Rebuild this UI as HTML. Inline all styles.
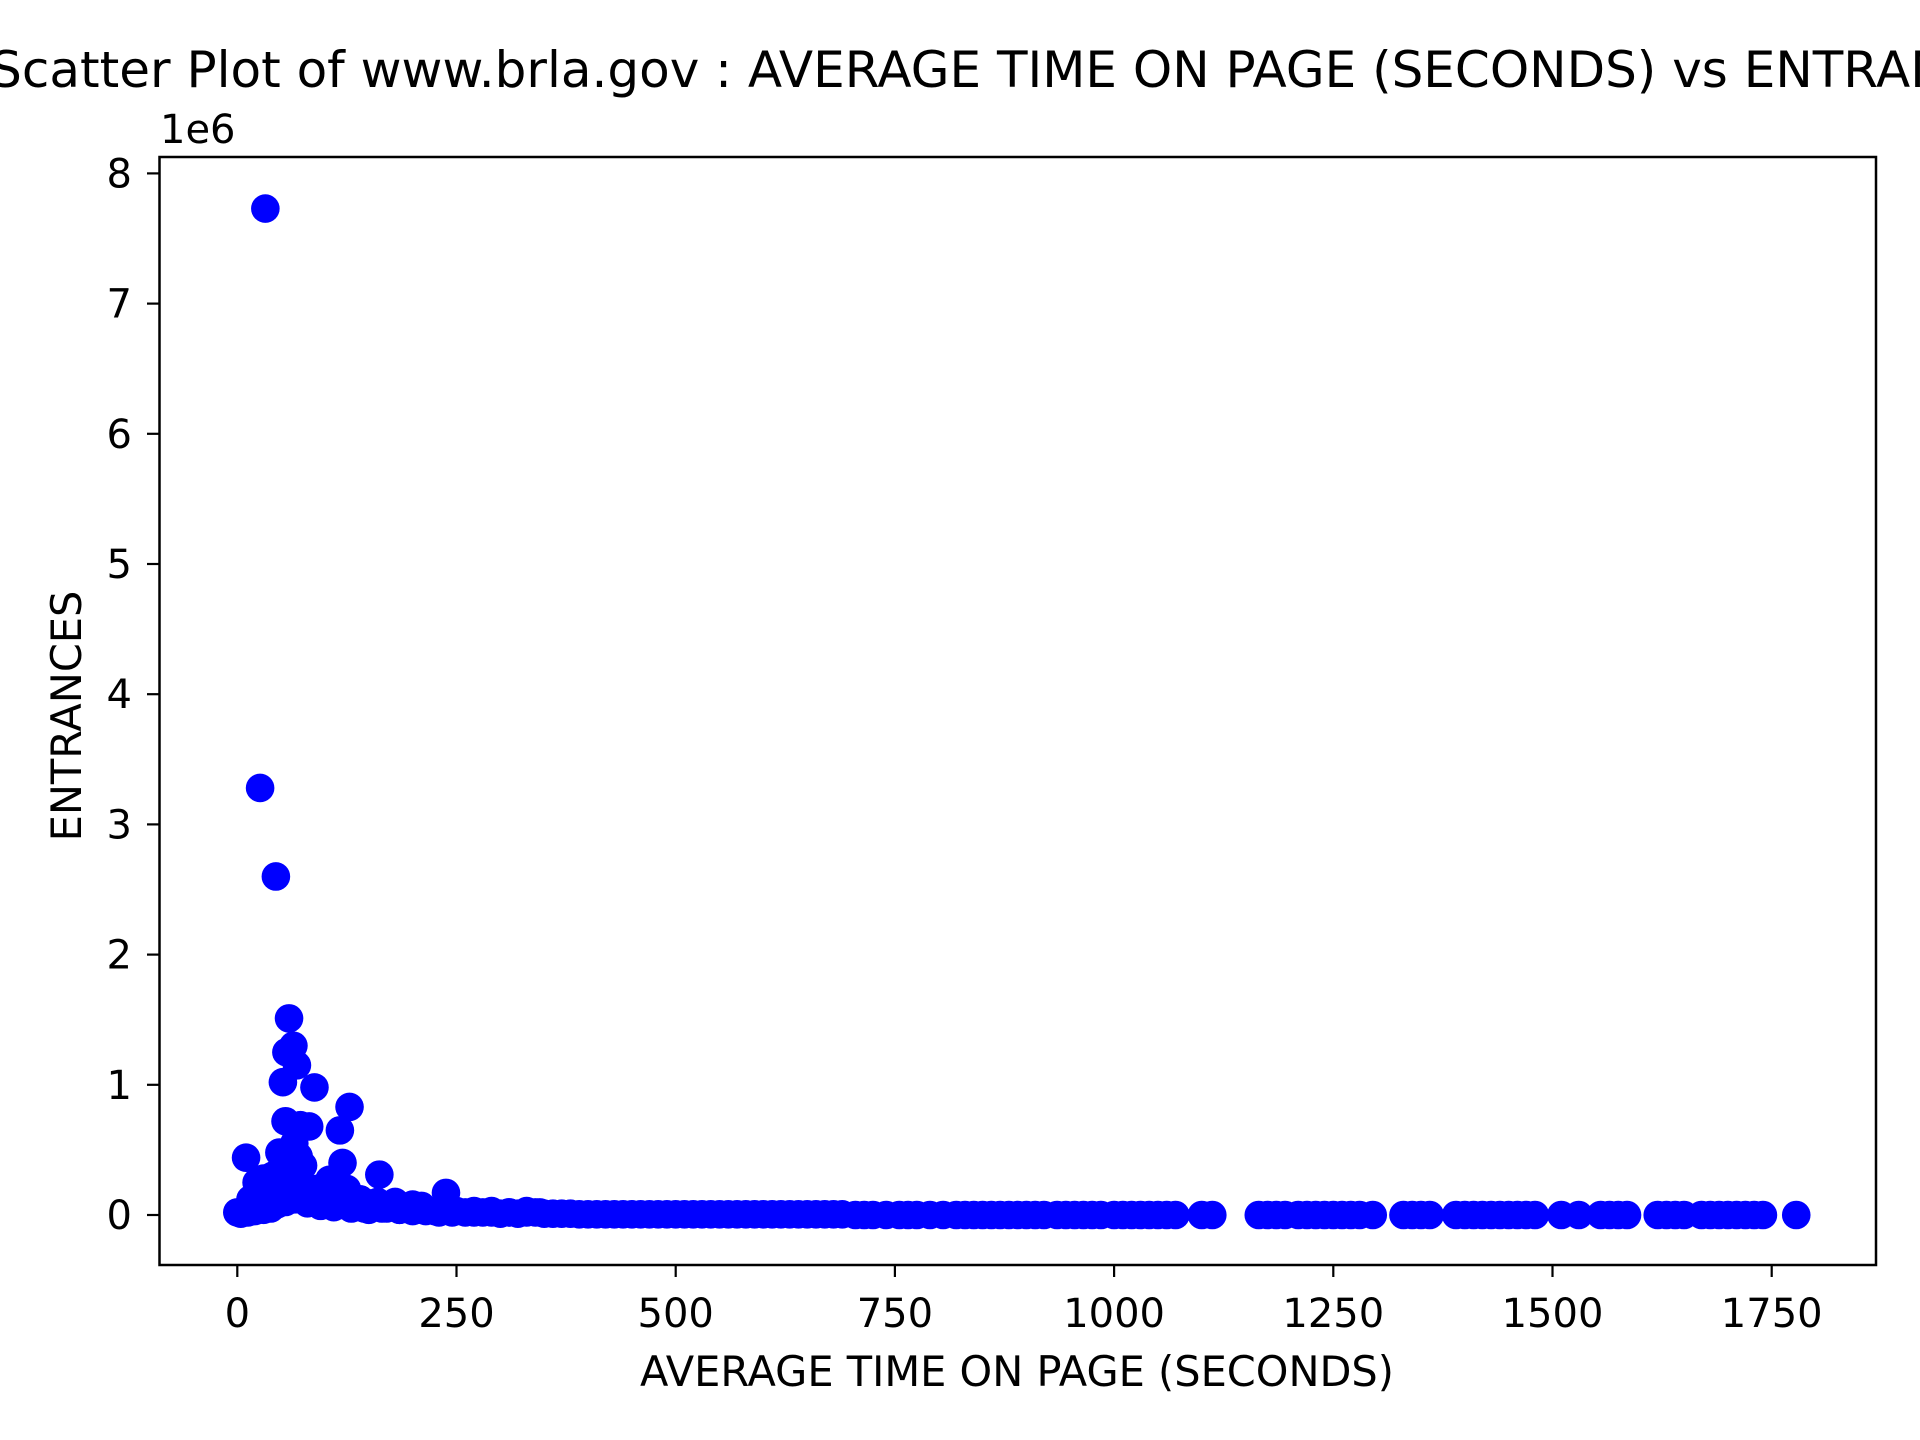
<!DOCTYPE html>
<html><head><meta charset="utf-8"><style>
html,body{margin:0;padding:0;background:#fff;}
svg{display:block;font-family:"DejaVu Sans","Liberation Sans",sans-serif;}
</style></head><body>
<svg id="chart" width="1920" height="1440" viewBox="0 0 1920 1440" xmlns="http://www.w3.org/2000/svg">
<rect x="0" y="0" width="1920" height="1440" fill="#fff"/>
<text x="1018" y="87" font-size="50" text-anchor="middle" fill="#000">Scatter Plot of www.brla.gov : AVERAGE TIME ON PAGE (SECONDS) vs ENTRANCES</text>
<g id="points"></g>
<rect x="159.5" y="157" width="1716.5" height="1108" fill="none" stroke="#000" stroke-width="2.5"/>
<g id="xticks"></g>
<g id="yticks"></g>
<text x="160" y="143" font-size="40" fill="#000">1e6</text>
<text x="1017" y="1386" font-size="41.5" text-anchor="middle" fill="#000">AVERAGE TIME ON PAGE (SECONDS)</text>
<text x="0" y="0" font-size="41.5" text-anchor="middle" fill="#000" transform="translate(81,716) rotate(-90)">ENTRANCES</text>
</svg>
<script>
const xTicks = [0, 250, 500, 750, 1000, 1250, 1500, 1750];
const yTicks = [0, 1, 2, 3, 4, 5, 6, 7, 8];
const peakX = [32, 26, 44, 59, 64, 56, 68, 52, 88, 128, 55, 72, 82, 117, 10, 120, 162, 238, 65, 70, 60, 75, 50, 48, 105, 125, 140, 180, 200, 36, 22, 40, 95, 110, 150, 190, 210, 15, 30, 58];
const peakY = [7.73e6, 3.28e6, 2.6e6, 1.51e6, 1.3e6, 1.25e6, 1.15e6, 1.02e6, 0.98e6, 0.83e6, 0.72e6, 0.69e6, 0.68e6, 0.65e6, 0.44e6, 0.4e6, 0.31e6, 0.17e6, 0.55e6, 0.45e6, 0.42e6, 0.38e6, 0.35e6, 0.48e6, 0.27e6, 0.2e6, 0.12e6, 0.1e6, 0.08e6, 0.22e6, 0.25e6, 0.3e6, 0.15e6, 0.18e6, 0.09e6, 0.06e6, 0.07e6, 0.12e6, 0.28e6, 0.33e6];
const clusterX = [20, 25, 30, 35, 40, 45, 50, 55, 60, 65, 70, 75, 80, 85, 90, 95, 100, 105, 110, 115, 120, 130, 140, 150, 160, 170, 180, 190, 200, 215, 35, 45, 55, 65, 75, 85, 95, 105, 115, 125, 135, 145, 165, 185, 205, 225, 250, 270, 290, 310, 330, 345];
const clusterY = [0.15e6, 0.2e6, 0.25e6, 0.28e6, 0.3e6, 0.32e6, 0.35e6, 0.3e6, 0.28e6, 0.3e6, 0.25e6, 0.22e6, 0.2e6, 0.18e6, 0.2e6, 0.15e6, 0.18e6, 0.2e6, 0.15e6, 0.12e6, 0.18e6, 0.1e6, 0.12e6, 0.08e6, 0.1e6, 0.06e6, 0.07e6, 0.05e6, 0.06e6, 0.04e6, 0.12e6, 0.15e6, 0.18e6, 0.15e6, 0.12e6, 0.1e6, 0.09e6, 0.1e6, 0.08e6, 0.07e6, 0.06e6, 0.05e6, 0.05e6, 0.04e6, 0.04e6, 0.03e6, 0.03e6, 0.03e6, 0.03e6, 0.02e6, 0.03e6, 0.02e6];
const flatX = [0, 4, 8, 12, 16, 20, 25, 30, 38, 45, 55, 65, 80, 95, 110, 130, 150, 170, 185, 200, 215, 230, 245, 260, 270, 280, 290, 300, 310, 320, 330, 340, 350, 360, 370, 380, 390, 400, 410, 420, 430, 440, 450, 460, 470, 480, 490, 500, 510, 520, 530, 540, 550, 560, 570, 580, 590, 600, 610, 620, 630, 640, 650, 660, 670, 680, 690, 705, 715, 725, 740, 755, 765, 775, 790, 805, 820, 830, 840, 850, 860, 870, 880, 890, 900, 910, 920, 935, 945, 955, 965, 975, 985, 1000, 1010, 1020, 1030, 1040, 1050, 1060, 1070, 1100, 1112, 1165, 1175, 1185, 1195, 1210, 1220, 1230, 1240, 1250, 1260, 1270, 1280, 1295, 1330, 1340, 1350, 1360, 1390, 1400, 1410, 1420, 1430, 1440, 1450, 1460, 1470, 1480, 1510, 1530, 1555, 1565, 1575, 1585, 1620, 1630, 1640, 1650, 1670, 1680, 1690, 1700, 1710, 1720, 1730, 1740, 1778];
const flatY = [0.02e6, 0.01e6, 0.03e6, 0.02e6, 0.05e6, 0.03e6, 0.06e6, 0.04e6, 0.05e6, 0.08e6, 0.1e6, 0.12e6, 0.09e6, 0.07e6, 0.06e6, 0.05e6, 0.04e6, 0.05e6, 0.04e6, 0.03e6, 0.03e6, 0.02e6, 0.02e6, 0.02e6, 0.02e6, 0.02e6, 0.02e6, 0.01e6, 0.02e6, 0.01e6, 0.02e6, 0.02e6, 0.01e6, 0.01e6, 0.01e6, 0.01e6, 0.005e6, 0.005e6, 0.005e6, 0.005e6, 0.005e6, 0.005e6, 0.005e6, 0.005e6, 0.005e6, 0.005e6, 0.005e6, 0.005e6, 0.005e6, 0.005e6, 0.005e6, 0.005e6, 0.005e6, 0.005e6, 0.005e6, 0.005e6, 0.005e6, 0.005e6, 0.005e6, 0.005e6, 0.005e6, 0.005e6, 0.005e6, 0.005e6, 0.005e6, 0.005e6, 0.005e6, 0, 0, 0, 0, 0, 0, 0, 0, 0, 0, 0, 0, 0, 0, 0, 0, 0, 0, 0, 0, 0, 0, 0, 0, 0, 0, 0, 0, 0, 0, 0, 0, 0, 0, 0, 0, 0, 0, 0, 0, 0, 0, 0, 0, 0, 0, 0, 0, 0, 0, 0, 0, 0, 0, 0, 0, 0, 0, 0, 0, 0, 0, 0, 0, 0, 0, 0, 0, 0, 0, 0, 0, 0, 0, 0, 0, 0, 0, 0, 0, 0, 0, 0, 0, 0, 0, 0, 0];

const NS = "http://www.w3.org/2000/svg";
function xs(v){ return 237.3 + v * 0.8768; }
function ys(v){ return 1215 - v / 1e6 * 130.2; }

const pts = document.getElementById('points');
function dot(x, y){
  const c = document.createElementNS(NS, 'circle');
  
  
  c.setAttribute('cx', xs(x));
  c.setAttribute('cy', ys(y));
  c.setAttribute('r', 14.3);
  c.setAttribute('fill', '#0000ff');
  pts.appendChild(c);
}
for (let i = 0; i < flatX.length; i++) dot(flatX[i], flatY[i]);
for (let i = 0; i < clusterX.length; i++) dot(clusterX[i], clusterY[i]);
for (let i = 0; i < peakX.length; i++) dot(peakX[i], peakY[i]);

const xg = document.getElementById('xticks');
xTicks.forEach(t => {
  const l = document.createElementNS(NS, 'line');
  
  
  l.setAttribute('x1', xs(t)); l.setAttribute('x2', xs(t));
  l.setAttribute('y1', 1265); l.setAttribute('y2', 1277);
  l.setAttribute('stroke', '#000'); l.setAttribute('stroke-width', 2.2);
  xg.appendChild(l);
  const tx = document.createElementNS(NS, 'text');
  
  
  tx.setAttribute('x', xs(t)); tx.setAttribute('y', 1327);
  tx.setAttribute('font-size', 40); tx.setAttribute('text-anchor', 'middle');
  tx.textContent = t;
  xg.appendChild(tx);
});
const yg = document.getElementById('yticks');
yTicks.forEach(t => {
  const y = ys(t * 1e6);
  const l = document.createElementNS(NS, 'line');
  
  
  l.setAttribute('x1', 147); l.setAttribute('x2', 159.5);
  l.setAttribute('y1', y); l.setAttribute('y2', y);
  l.setAttribute('stroke', '#000'); l.setAttribute('stroke-width', 2.2);
  yg.appendChild(l);
  const tx = document.createElementNS(NS, 'text');
  
  
  tx.setAttribute('x', 132); tx.setAttribute('y', y + 14);
  tx.setAttribute('font-size', 40); tx.setAttribute('text-anchor', 'end');
  tx.textContent = t;
  yg.appendChild(tx);
});
</script>
</body></html>
